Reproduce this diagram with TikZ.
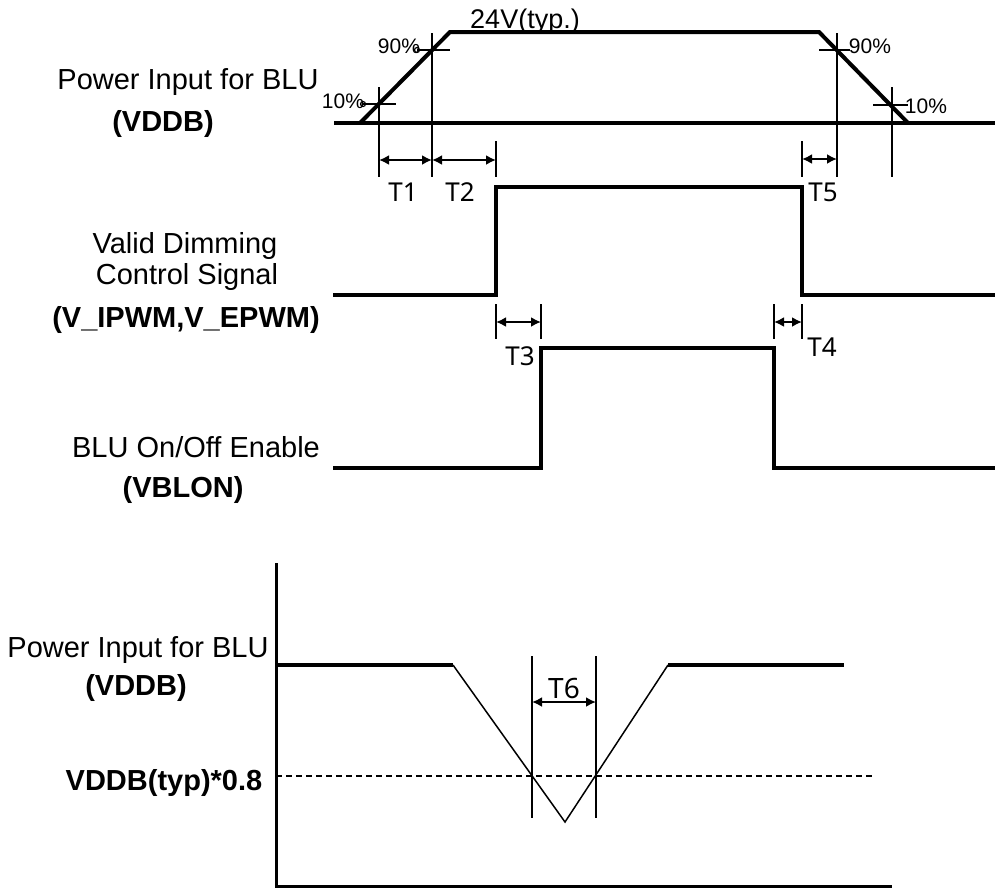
\documentclass[tikz,border=0pt]{standalone}
\usepackage{fontspec}
\setmainfont{Liberation Sans}
\newfontfamily\tfont{Noto Sans}
\usetikzlibrary{arrows.meta}
\tikzset{
    wave/.style={line width=2pt},
    thinwave/.style={line width=0.75pt},
    guide/.style={line width=1pt},
    dim/.style={line width=1.4pt, {Latex[length=5pt,width=5pt]}-{Latex[length=5pt,width=5pt]}},
    lbl/.style={font=\fontsize{14.5}{17}\selectfont, inner sep=0pt, anchor=base},
    tag/.style={font=\tfont\fontsize{13}{15}\selectfont, inner sep=0pt, anchor=base},
    pct/.style={font=\fontsize{10.5}{12}\selectfont, inner sep=0pt, anchor=base},
}

\begin{document}
\begin{tikzpicture}[x=0.5pt, y=-0.5pt]
    \useasboundingbox (0,0) rectangle (995,889);

    % VDDB ramp
    \draw[wave] (334,123) -- (995,123);
    \draw[wave] (360,123) -- (450,32) -- (819,32) -- (908,123);
    \draw[guide] (379,87) -- (379,177);
    \draw[guide] (432,33) -- (432,177);
    \draw[guide] (496,141) -- (496,177);
    \draw[guide] (802,141) -- (802,177);
    \draw[guide] (837,33) -- (837,177);
    \draw[guide] (892,87) -- (892,177);
    \draw[guide] (363,104) -- (396,104);
    \draw[guide] (417,50) -- (450,50);
    \draw[guide] (819,50) -- (850,50);
    \draw[guide] (873,105) -- (908,105);
    \draw[line width=0.6pt] (363,104) circle (2.5);
    \draw[line width=0.6pt] (417,50) circle (2.5);

    \coordinate (a1) at (379,160);
    \coordinate (a2) at (432,160);
    \coordinate (a3) at (496,160);
    \coordinate (a4) at (802,159);
    \coordinate (a5) at (837,159);
    \draw[dim] (a1) -- (a2);
    \draw[dim] (a2) -- (a3);
    \draw[dim] (a4) -- (a5);

    % dimming signal
    \draw[wave] (333,295) -- (496,295) -- (496,187) -- (802,187) -- (802,295) -- (995,295);
    \draw[guide] (496,304) -- (496,339);
    \draw[guide] (541,304) -- (541,339);
    \draw[guide] (774,304) -- (774,339);
    \draw[guide] (802,304) -- (802,339);
    \coordinate (b1) at (496,322);
    \coordinate (b2) at (541,322);
    \coordinate (b3) at (774,322);
    \coordinate (b4) at (802,322);
    \draw[dim] (b1) -- (b2);
    \draw[dim] (b3) -- (b4);

    % VBLON
    \draw[wave] (333,468) -- (541,468) -- (541,348) -- (774,348) -- (774,468) -- (995,468);

    % dip
    \draw[line width=1.5pt] (276,563) -- (276,886) -- (892,886);
    \draw[wave] (276,665) -- (453,665);
    \draw[thinwave] (453,665) -- (565,822) -- (668,665);
    \draw[wave] (668,665) -- (844,665);
    \draw[line width=0.7pt, dash pattern=on 3pt off 2pt] (276,776) -- (873,776);
    \draw[guide] (532,656) -- (532,818);
    \draw[guide] (596,656) -- (596,818);
    \coordinate (c1) at (532,702);
    \coordinate (c2) at (596,702);
    \draw[dim] (c1) -- (c2);

    % labels
    \node[lbl] (vddbA) at (188,89) {Power Input for BLU};
    \node[lbl] (vddbB) at (163,131) {\bfseries (VDDB)};
    \node[lbl] (dimA) at (185,253) {Valid Dimming};
    \node[lbl] (dimB) at (187,284) {Control Signal};
    \node[lbl] (dimC) at (186,327) {\bfseries (V\_IPWM,V\_EPWM)};
    \node[lbl] (blonA) at (196,457) {BLU On/Off Enable};
    \node[lbl] (blonB) at (183,497) {\bfseries (VBLON)};
    \node[lbl] (vddbC) at (138,657) {Power Input for BLU};
    \node[lbl] (vddbD) at (136,695) {\bfseries (VDDB)};
    \node[lbl] (lvl) at (164,790) {\bfseries VDDB(typ)*0.8};
    \node[lbl, font=\fontsize{13.5}{16}\selectfont] (typ) at (525,28) {24V(typ.)};
    \node[pct] (p90a) at (399,53) {90\%};
    \node[pct] (p10a) at (343,108) {10\%};
    \node[pct] (p90b) at (870,53) {90\%};
    \node[pct] (p10b) at (926,113) {10\%};
    \node[tag] (t1) at (403,201) {T1};
    \node[tag] (t2) at (460,201) {T2};
    \node[tag] (t3) at (520,365) {T3};
    \node[tag] (t4) at (822,356) {T4};
    \node[tag] (t5) at (823,201) {T5};
    \node[tag, font=\tfont\fontsize{14}{16}\selectfont] (t6) at (564,698) {T6};
\end{tikzpicture}
\end{document}
